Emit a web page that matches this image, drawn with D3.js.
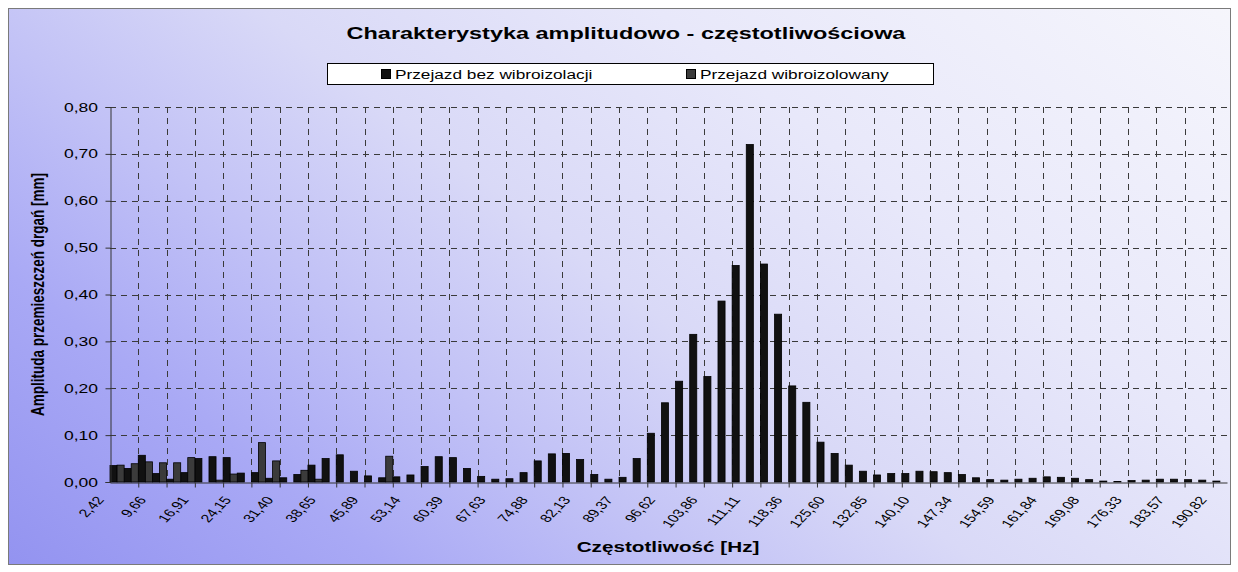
<!DOCTYPE html>
<html>
<head>
<meta charset="utf-8">
<script src="https://cdn.jsdelivr.net/npm/d3@7"></script>
<style>
    body { margin: 0; background: #fff; }
    svg { display: block; }
    text { font-family: Arial, "Liberation Sans", sans-serif; fill: #000; }
</style>
</head>
<body>
<svg id="chart" width="1238" height="572"></svg>
<script>
// frequency bins [Hz]
const categories = [
    "2,42", "4,83", "7,25", "9,66", "12,08", "14,49", "16,91", "19,32", "21,74", "24,15",
    "26,57", "28,99", "31,40", "33,82", "36,23", "38,65", "41,06", "43,48", "45,89", "48,31",
    "50,72", "53,14", "55,56", "57,97", "60,39", "62,80", "65,22", "67,63", "70,05", "72,46",
    "74,88", "77,29", "79,71", "82,13", "84,54", "86,96", "89,37", "91,79", "94,20", "96,62",
    "99,03", "101,45", "103,86", "106,28", "108,69", "111,11", "113,53", "115,94", "118,36", "120,77",
    "123,19", "125,60", "128,02", "130,43", "132,85", "135,26", "137,68", "140,10", "142,51", "144,93",
    "147,34", "149,76", "152,17", "154,59", "157,00", "159,42", "161,84", "164,25", "166,67", "169,08",
    "171,50", "173,91", "176,33", "178,74", "181,16", "183,57", "185,99", "188,40", "190,82"
];

const seriesNames = ["Przejazd bez wibroizolacji", "Przejazd wibroizolowany"];

// Przejazd bez wibroizolacji [mm]
const bezWibroizolacji = [
    0.035, 0.029, 0.057, 0.018, 0.006, 0.020, 0.050, 0.054, 0.052, 0.019,
    0.020, 0.008, 0.009, 0.016, 0.036, 0.050, 0.058, 0.023, 0.013, 0.009,
    0.011, 0.015, 0.033, 0.054, 0.052, 0.029, 0.012, 0.006, 0.007, 0.020,
    0.045, 0.060, 0.061, 0.048, 0.016, 0.006, 0.010, 0.050, 0.104, 0.169,
    0.215, 0.315, 0.225, 0.386, 0.462, 0.720, 0.465, 0.358, 0.205, 0.170,
    0.085, 0.061, 0.036, 0.023, 0.015, 0.018, 0.018, 0.023, 0.022, 0.020,
    0.016, 0.009, 0.005, 0.004, 0.006, 0.008, 0.011, 0.010, 0.008, 0.005,
    0.002, 0.001, 0.003, 0.004, 0.006, 0.006, 0.005, 0.004, 0.002
];

// Przejazd wibroizolowany [mm]
const wibroizolowany = [
    0.036, 0.039, 0.043, 0.041, 0.041, 0.052, 0.000, 0.004, 0.017, 0.000,
    0.084, 0.045, 0.000, 0.025, 0.006, 0.000, 0.000, 0.000, 0.000, 0.055,
    0, 0, 0, 0, 0, 0, 0, 0, 0, 0,
    0, 0, 0, 0, 0, 0, 0, 0, 0, 0,
    0, 0, 0, 0, 0, 0, 0, 0, 0, 0,
    0, 0, 0, 0, 0, 0, 0, 0, 0, 0,
    0, 0, 0, 0, 0, 0, 0, 0, 0, 0,
    0, 0, 0, 0, 0, 0, 0, 0, 0
];

const yTicks = [0, 0.1, 0.2, 0.3, 0.4, 0.5, 0.6, 0.7, 0.8];

const W = 1238, H = 572;
const STRETCH = 1.38;          // the original picture is widened horizontally
const FILLS = ["#111111", "#3b3b3b"];
const plot = {left: 110, right: 1227, top: 107, bottom: 482};

const svg = d3.select("#chart");

// text placed with the horizontal stretch of the original
function stretched(parent, x, y, str, rotate) {
    return parent.append("text")
        .attr("transform", "translate(" + x + "," + y + ") scale(" + STRETCH + ",1)" + (rotate ? " rotate(" + rotate + ")" : ""))
        .text(str);
}

// background
let defs = svg.append("defs");
let grad = defs.append("linearGradient")
    .attr("id", "bg")
    .attr("gradientUnits", "userSpaceOnUse")
    .attr("x1", 0).attr("y1", 572)
    .attr("x2", 737).attr("y2", -386);
[[0, "#9292f0"], [0.2, "#a9a9f5"], [0.35, "#c2c2f6"], [0.5, "#d9d9f7"], [0.7, "#e8e8fa"], [1, "#f6f6fc"]]
    .forEach(s => grad.append("stop").attr("offset", s[0]).attr("stop-color", s[1]));

svg.append("rect")
    .attr("x", 8.5).attr("y", 8.5)
    .attr("width", 1222).attr("height", 556)
    .attr("fill", "url(#bg)")
    .attr("stroke", "#7a7a7a")
    .attr("stroke-width", 1);

// scales
let x = d3.scaleBand()
    .domain(d3.range(categories.length))
    .range([plot.left, plot.right])
    .paddingInner(0).paddingOuter(0);
let xSub = d3.scaleBand()
    .domain([0, 1])
    .range([0, x.bandwidth()]);
let xEdge = d3.scaleLinear()
    .domain([0, categories.length])
    .range([plot.left, plot.right]);
let y = d3.scaleLinear()
    .domain([0, 0.8])
    .range([plot.bottom, plot.top]);

// gridlines
let grid = svg.append("g").attr("class", "grid");
grid.selectAll(".hgrid")
    .data(yTicks.slice(1))
    .enter().append("line")
    .attr("x1", plot.left).attr("x2", plot.right)
    .attr("y1", d => Math.round(y(d)) + 0.5)
    .attr("y2", d => Math.round(y(d)) + 0.5);
grid.selectAll(".vgrid")
    .data(d3.range(2, categories.length, 2))
    .enter().append("line")
    .attr("x1", d => Math.round(xEdge(d)) + 0.5)
    .attr("x2", d => Math.round(xEdge(d)) + 0.5)
    .attr("y1", plot.top).attr("y2", plot.bottom);
grid.selectAll("line")
    .attr("stroke", "#3a3a3a")
    .attr("stroke-width", 1)
    .attr("stroke-dasharray", "6,5");

// bars
let series = [bezWibroizolacji, wibroizolowany];
series.forEach((values, s) => {
    svg.append("g")
        .selectAll("rect")
        .data(values)
        .enter().append("rect")
        .attr("x", (d, i) => x(i) + xSub(s))
        .attr("y", d => y(d))
        .attr("width", xSub.bandwidth())
        .attr("height", d => y(0) - y(d))
        .attr("fill", FILLS[s])
        .attr("stroke", "#000")
        .attr("stroke-width", 0.8)
        .style("display", d => d > 0 ? null : "none");
});

// axes
let yAxis = svg.append("g")
    .attr("transform", "translate(" + (plot.left + 0.5) + ",0)")
    .call(d3.axisLeft(y).tickValues(yTicks).tickSize(5).tickFormat(""));
yAxis.selectAll("path, line").attr("stroke", "#333");

let xAxis = svg.append("g")
    .attr("transform", "translate(0," + (plot.bottom + 0.5) + ")")
    .call(d3.axisBottom(xEdge).tickValues(d3.range(2, categories.length, 2)).tickSize(5).tickSizeOuter(0).tickFormat(""));
xAxis.selectAll("path, line").attr("stroke", "#333");

// y tick labels
let yLabels = svg.append("g").attr("font-size", 12.7).attr("text-anchor", "end");
yTicks.forEach(t => {
    stretched(yLabels, 98, y(t) + 4.5, d3.format(".2f")(t).replace(".", ","));
});

// x tick labels, every third bin; -54deg before widening gives ~45deg on screen
let xLabels = svg.append("g").attr("font-size", 11.5).attr("text-anchor", "end");
categories.forEach((c, i) => {
    if (i % 3 !== 0) return;
    stretched(xLabels, x(i) + x.bandwidth() / 2 - 12.5, 500, c, -54);
});

// titles
stretched(svg, 626, 39, "Charakterystyka amplitudowo - częstotliwościowa")
    .attr("font-size", 17).attr("font-weight", "bold").attr("text-anchor", "middle");
stretched(svg, 668, 552, "Częstotliwość [Hz]")
    .attr("font-size", 15).attr("font-weight", "bold").attr("text-anchor", "middle");
stretched(svg, 44, (plot.top + plot.bottom) / 2, "Amplituda przemieszczeń drgań [mm]", -90)
    .attr("font-size", 13.5).attr("font-weight", "bold").attr("text-anchor", "middle");

// legend
let legend = svg.append("g");
legend.append("rect")
    .attr("x", 327.5).attr("y", 63.5)
    .attr("width", 606).attr("height", 21)
    .attr("fill", "#fff")
    .attr("stroke", "#000");
let legendX = [381, 686];
seriesNames.forEach((name, s) => {
    legend.append("rect")
        .attr("x", legendX[s] + 0.5).attr("y", 69.5)
        .attr("width", 9).attr("height", 9)
        .attr("fill", FILLS[s])
        .attr("stroke", "#000");
    stretched(legend, legendX[s] + 14, 79, name).attr("font-size", 12.5);
});
</script>
</body>
</html>
